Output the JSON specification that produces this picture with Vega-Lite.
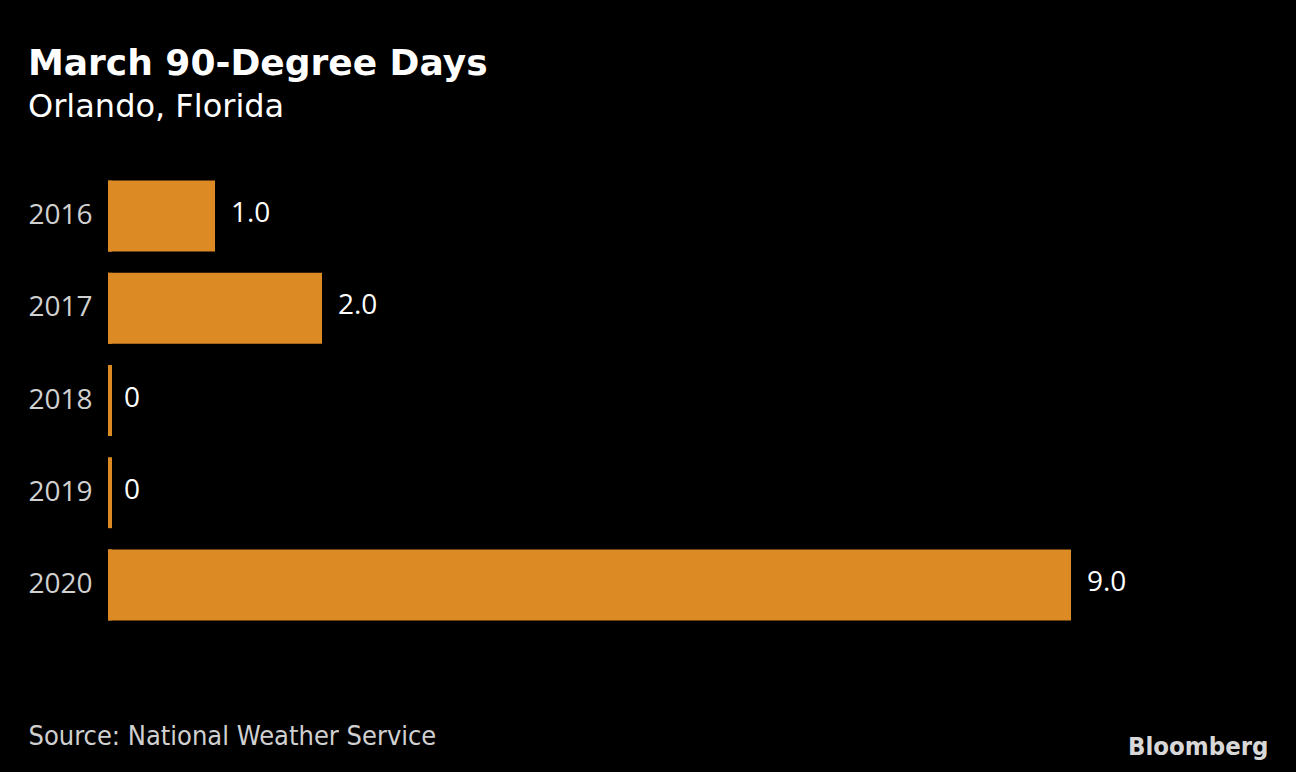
{
  "$schema": "https://vega.github.io/schema/vega-lite/v6.json",
  "width": 963,
  "height": 461,
  "autosize": {"type": "none"},
  "padding": {"left": 108, "top": 170, "right": 225, "bottom": 141},
  "background": "#000000",
  "title": {
    "text": "March 90-Degree Days",
    "subtitle": "Orlando, Florida",
    "anchor": "start",
    "frame": "group",
    "dx": -80,
    "offset": 46,
    "font": "DejaVu Sans",
    "fontWeight": "bold",
    "fontSize": 36,
    "color": "#ffffff",
    "subtitleFont": "DejaVu Sans",
    "subtitleFontSize": 32,
    "subtitleColor": "#ffffff",
    "subtitlePadding": 9
  },
  "data": {
    "values": [
      {"year": "2016", "days": 1, "label": "1.0"},
      {"year": "2017", "days": 2, "label": "2.0"},
      {"year": "2018", "days": 0, "label": "0"},
      {"year": "2019", "days": 0, "label": "0"},
      {"year": "2020", "days": 9, "label": "9.0"}
    ]
  },
  "config": {
    "view": {"stroke": null},
    "axis": {"grid": false, "domain": false, "ticks": false}
  },
  "encoding": {
    "y": {
      "field": "year",
      "type": "nominal",
      "sort": null,
      "scale": {"paddingInner": 0.23, "paddingOuter": 0.115},
      "axis": {
        "title": "Bloomberg",
        "titleAngle": 0,
        "titleX": 1160,
        "titleY": 584,
        "titleAlign": "right",
        "titleBaseline": "alphabetic",
        "titleFont": "DejaVu Sans Condensed",
        "titleFontWeight": "bold",
        "titleFontSize": 25.5,
        "titleColor": "#d8d8d8",
        "labelFont": "Open Sans",
        "labelFontSize": 28,
        "labelColor": "#d0d0d0",
        "labelPadding": 16
      }
    }
  },
  "layer": [
    {
      "mark": {"type": "bar", "color": "#DC8A24"},
      "encoding": {
        "x": {
          "field": "days",
          "type": "quantitative",
          "scale": {"domain": [0, 9]},
          "axis": {
            "labels": false,
            "title": "Source: National Weather Service",
            "titleX": -80,
            "titleY": 113,
            "titleAnchor": null,
            "titleAlign": "left",
            "titleBaseline": "alphabetic",
            "titleFont": "DejaVu Sans Condensed",
            "titleFontWeight": "normal",
            "titleFontSize": 27,
            "titleColor": "#d0d0d0"
          }
        }
      }
    },
    {
      "mark": {"type": "bar", "color": "#DC8A24", "x2Offset": 4},
      "encoding": {
        "x": {"datum": 0},
        "x2": {"datum": 0}
      }
    },
    {
      "mark": {"type": "text", "align": "left", "baseline": "middle", "dx": 16, "dy": -2, "color": "#ffffff", "font": "Open Sans", "fontSize": 28},
      "encoding": {
        "x": {"field": "days", "type": "quantitative"},
        "text": {"field": "label"}
      }
    }
  ]
}
